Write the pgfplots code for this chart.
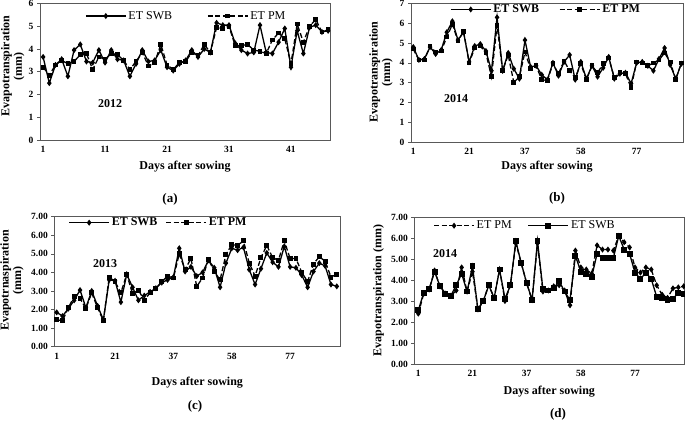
\documentclass[border=0pt]{standalone}
\usepackage{fontspec}
\setmainfont{Liberation Serif}
\usepackage{pgfplots}
\usepackage{pgfplotstable}
\pgfplotsset{compat=1.18}

% day index, ET SWB, ET PM
\pgfplotstableread{
i swb pm
1 3.65 3.2
2 2.5 2.85
3 3.3 3.3
4 3.55 3.5
5 2.8 3.35
6 3.95 3.45
7 4.2 3.75
8 3.45 3.8
9 3.4 3.1
10 3.95 3.65
11 3.4 3.55
12 3.95 3.8
13 3.55 3.75
14 3.5 3.5
15 2.8 3.1
16 3.35 3.45
17 3.95 3.85
18 3.45 3.25
19 3.5 3.4
20 3.95 4.2
21 3.2 3.3
22 3.05 3.1
23 3.35 3.4
24 3.5 3.45
25 3.95 3.85
26 3.65 3.7
27 4.0 4.2
28 3.85 3.85
29 5.15 4.95
30 5.05 4.9
31 5.05 5.0
32 4.25 4.15
33 3.95 4.15
34 3.8 4.2
35 3.85 3.95
36 5.05 3.9
37 3.85 3.8
38 3.8 4.4
39 4.3 4.7
40 4.9 4.45
41 3.2 3.35
42 4.8 5.1
43 3.8 4.3
44 4.95 5.0
45 5.05 5.3
46 4.75 4.75
47 4.8 4.85
}\dataA

\pgfplotstableread{
i swb pm
1 4.8 4.7
2 4.15 4.15
3 4.2 4.15
4 4.8 4.85
5 4.45 4.55
6 4.65 4.6
7 5.55 5.3
8 6.1 5.95
9 5.15 5.1
10 5.55 5.6
11 4.05 4.0
12 4.85 4.75
13 4.95 4.85
14 4.6 4.5
15 3.6 3.3
16 6.3 5.9
17 3.6 3.6
18 4.5 4.4
19 3.7 3.0
20 3.2 3.3
21 5.15 4.55
22 3.8 3.7
23 3.85 3.85
24 3.4 3.15
25 3.15 3.1
26 4.0 3.95
27 3.35 3.45
28 4.05 4.1
29 4.4 3.6
30 3.15 3.25
31 4.05 3.95
32 3.2 3.15
33 3.85 3.85
34 3.3 3.5
35 3.75 3.95
36 4.3 4.25
37 3.2 3.25
38 3.45 3.5
39 3.5 3.45
40 2.95 2.75
41 4.0 4.05
42 4.05 4.0
43 3.85 3.85
44 3.6 4.0
45 4.2 4.15
46 4.75 4.5
47 3.9 4.05
48 3.2 3.15
49 3.95 4.0
}\dataB

\pgfplotstableread{
i swb pm
1 1.85 1.45
2 1.65 1.4
3 2.05 2.1
4 2.5 2.7
5 3.05 2.6
6 2.1 2.05
7 3.0 2.9
8 2.2 2.1
9 1.45 1.4
10 3.6 3.75
11 3.55 3.5
12 2.4 2.9
13 3.9 3.9
14 3.2 2.85
15 2.5 3.05
16 2.75 2.5
17 2.95 2.9
18 3.15 3.15
19 3.45 3.5
20 3.6 3.8
21 3.75 3.7
22 5.3 5.0
23 4.05 4.15
24 4.3 4.75
25 3.8 3.25
26 4.0 3.7
27 4.65 4.7
28 4.25 4.05
29 3.2 3.6
30 4.5 4.95
31 5.3 5.5
32 5.2 5.45
33 5.35 5.7
34 4.15 4.5
35 3.35 3.8
36 4.2 4.8
37 5.05 5.45
38 4.55 4.8
39 4.3 4.65
40 5.4 5.7
41 4.3 4.75
42 4.25 4.75
43 3.85 4.0
44 3.2 3.5
45 4.05 4.45
46 4.5 4.85
47 4.35 4.6
48 3.35 3.75
49 3.25 3.9
}\dataC

\pgfplotstableread{
i pm swb
1 2.4 2.55
2 3.35 3.4
3 3.55 3.55
4 4.45 4.4
5 3.7 3.7
6 3.35 3.35
7 3.25 3.25
8 3.5 3.75
9 4.6 4.3
10 3.45 3.45
11 4.4 4.65
12 2.6 2.6
13 3.0 3.0
14 3.75 3.75
15 3.15 3.15
16 4.5 4.5
17 3.0 3.1
18 3.75 3.75
19 5.75 5.85
20 4.8 4.8
21 3.85 3.85
22 3.05 3.05
23 5.75 5.85
24 3.45 3.55
25 3.5 3.5
26 3.7 3.6
27 3.75 3.95
28 3.5 3.45
29 2.8 3.05
30 5.4 5.15
31 4.6 4.4
32 4.5 4.3
33 4.3 4.15
34 5.65 5.25
35 5.45 5.05
36 5.45 5.05
37 5.4 5.05
38 6.1 6.1
39 5.8 5.45
40 5.55 5.25
41 4.6 4.35
42 4.35 4.05
43 4.6 4.35
44 4.5 4.05
45 3.75 3.2
46 3.3 3.15
47 3.15 3.05
48 3.6 3.1
49 3.65 3.4
50 3.7 3.35
}\dataD

\pgfplotsset{
  panel/.style={
    scale only axis, anchor=south west,
    axis line style={draw=black!65, line width=0.8pt},
    xtick={1,11,21,31,41}, xtick style={draw=none},
    ytick style={draw=black!65, line width=0.6pt},
    tick align=outside, major tick length=3pt,
    ytick pos=left, xtick pos=bottom,
    tick label style={font=\bfseries\fontsize{9.5}{11}\selectfont},
    /pgf/number format/assume math mode=true,
    label style={font=\bfseries\fontsize{12}{12.5}\selectfont},
    ylabel style={align=center, anchor=center},
    xlabel style={anchor=center},
    legend style={draw=none, fill=none, inner sep=0pt, legend columns=2, anchor=west,
      font=\fontsize{12}{14}\selectfont},
    legend image code/.code={\draw[mark repeat=2,mark phase=2,##1]
      plot coordinates {(0pt,0pt) (20pt,0pt) (40pt,0pt)};},
  },
  twodec/.style={yticklabel style={/pgf/number format/.cd, fixed, fixed zerofill, precision=2}},
  solidser/.style={black, line width=1.3pt, solid, mark options={solid}},
  dashser/.style={black, line width=1.3pt, dash pattern=on 5pt off 2.5pt, mark options={solid}},
}

\begin{document}
\begin{tikzpicture}[x=1pt,y=1pt]
\useasboundingbox (0,0) rectangle (685,422);

% (a)
\begin{axis}[panel, at={(40pt,282pt)}, width=290pt, height=136.5pt,
  xmin=0.5, xmax=47.3, ymin=0, ymax=6, ytick={0,...,6},
  xticklabels={1,11,21,31,41},
  xlabel={Days after sowing}, xlabel style={at={(axis description cs:0.5,-0.198)}},
  ylabel={Evapotranspiration\\(mm)}, ylabel style={at={(axis description cs:-0.094,0.54)}},
  legend style={at={(axis description cs:0.155,0.908)},
    /tikz/every even column/.append style={column sep=33pt}}]
\addplot[solidser, mark=diamond*, mark size=2pt] table[x=i,y=swb] {\dataA};
\addplot[dashser, mark=square*, mark size=1.7pt] table[x=i,y=pm] {\dataA};
\legend{ET SWB, ET PM}
\node[font=\bfseries\fontsize{12}{14}\selectfont] at (axis cs:11.8,1.58) {2012};
\end{axis}

% (b)
\begin{axis}[panel, at={(411pt,280pt)}, width=272pt, height=138.5pt,
  xmin=0.59, xmax=49.3, ymin=0, ymax=7, ytick={0,...,7},
  xticklabels={1,21,37,58,77},
  xlabel={Days after sowing}, xlabel style={at={(axis description cs:0.5,-0.18)}},
  ylabel={Evapotranspiration\\(mm)}, ylabel style={at={(axis description cs:-0.11,0.505)}},
  legend style={at={(axis description cs:0.143,0.957)}, font=\bfseries\fontsize{12}{14}\selectfont,
    /tikz/every even column/.append style={column sep=18pt}}]
\addplot[solidser, mark=diamond*, mark size=2pt] table[x=i,y=swb] {\dataB};
\addplot[dashser, mark=square*, mark size=1.7pt] table[x=i,y=pm] {\dataB};
\legend{ET SWB, ET PM}
\node[font=\bfseries\fontsize{12}{14}\selectfont] at (axis cs:8.65,2.17) {2014};
\end{axis}

% (c)
\begin{axis}[panel, twodec, at={(54.3pt,75.3pt)}, width=286pt, height=130pt,
  xmin=0.59, xmax=49.6, ymin=0, ymax=7, ytick={0,...,7},
  xticklabels={1,21,37,58,77},
  xlabel={Days after sowing}, xlabel style={at={(axis description cs:0.5,-0.277)}},
  ylabel={Evapotrnaspiration\\(mm)}, ylabel style={at={(axis description cs:-0.148,0.51)}},
  legend style={at={(axis description cs:0.049,0.954)}, font=\bfseries\fontsize{12}{14}\selectfont,
    /tikz/every even column/.append style={column sep=6pt}}]
\addplot[solidser, mark=diamond*, mark size=2pt] table[x=i,y=swb] {\dataC};
\addplot[dashser, mark=square*, mark size=1.8pt] table[x=i,y=pm] {\dataC};
\legend{ET SWB, ET PM}
\node[font=\bfseries\fontsize{12}{14}\selectfont] at (axis cs:9.3,4.49) {2013};
\end{axis}

% (d)
\begin{axis}[panel, twodec, at={(414.3pt,58pt)}, width=270pt, height=147pt,
  xmin=0.26, xmax=50.1, ymin=0, ymax=7, ytick={0,...,7},
  xticklabels={1,21,37,58,77},
  xlabel={Days after sowing}, xlabel style={at={(axis description cs:0.5,-0.188)}},
  ylabel={Evapotranspiration (mm)}, ylabel style={at={(axis description cs:-0.133,0.5)}},
  legend style={at={(axis description cs:0.07,0.941)},
    /tikz/every even column/.append style={column sep=14pt}}]
\addplot[dashser, mark=diamond*, mark size=2pt] table[x=i,y=pm] {\dataD};
\addplot[solidser, mark=square*, mark size=2.3pt] table[x=i,y=swb] {\dataD};
\legend{ET PM, ET SWB}
\node[font=\bfseries\fontsize{12}{14}\selectfont] at (axis cs:5.93,5.27) {2014};
\end{axis}

\node[font=\bfseries\fontsize{13}{15}\selectfont] at (170,223) {(a)};
\node[font=\bfseries\fontsize{13}{15}\selectfont] at (557,224) {(b)};
\node[font=\bfseries\fontsize{13}{15}\selectfont] at (195,15.3) {(c)};
\node[font=\bfseries\fontsize{13}{15}\selectfont] at (558,8) {(d)};
\end{tikzpicture}
\end{document}
